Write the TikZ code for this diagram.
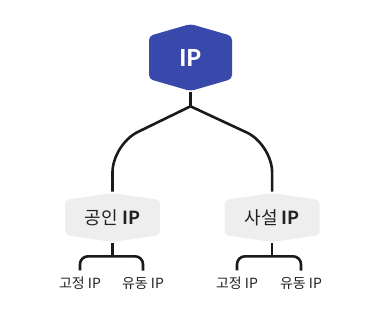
\documentclass[tikz,border=0pt]{standalone}
\usepackage{fontspec}
\setmainfont{Noto Sans CJK KR}[BoldFont={Noto Sans CJK KR Bold}]
\usetikzlibrary{positioning}
\definecolor{ip-blue}{HTML}{3949AB}
\definecolor{ip-grey}{HTML}{EEEEEE}
\definecolor{ip-line}{HTML}{1A1A1A}
\definecolor{ip-text}{HTML}{222222}
\tikzset{hexbase/.style={inner sep=0pt, align=center}}

\begin{document}
\begin{tikzpicture}[
    x=1pt, y=-1pt,                 % pixel grid of the reference, y down
    node distance=62pt,
    line width=2.6pt,
  ]

  % Styles: hexagon is filled inside the node box
  \tikzset{
    roothex/.style={hexbase, minimum width=83pt, minimum height=67pt,
      text=white, font=\fontsize{23}{25}\selectfont\bfseries,
      path picture={\fill[ip-blue, rounded corners=4pt]
        (path picture bounding box.north)
        -- ([yshift=-12pt]path picture bounding box.north east)
        -- ([yshift=12pt]path picture bounding box.south east)
        -- (path picture bounding box.south)
        -- ([yshift=12pt]path picture bounding box.south west)
        -- ([yshift=-12pt]path picture bounding box.north west) -- cycle;}},
    kindhex/.style={hexbase, minimum width=95pt, minimum height=49pt,
      text=ip-text, font=\fontsize{18}{20}\selectfont,
      path picture={\fill[ip-grey, rounded corners=4pt]
        (path picture bounding box.north)
        -- ([yshift=-7pt]path picture bounding box.north east)
        -- ([yshift=7pt]path picture bounding box.south east)
        -- (path picture bounding box.south)
        -- ([yshift=7pt]path picture bounding box.south west)
        -- ([yshift=-7pt]path picture bounding box.north west) -- cycle;}},
    leaf/.style={text=ip-text, font=\fontsize{14}{16}\selectfont, inner sep=0pt},
    link/.style={draw=ip-line, line width=2.6pt},
  }

  \useasboundingbox (0,0) rectangle (379,325);

  % Root
  \node (ip) [roothex] at (190.5,57.5) {IP};

  % Public / private
  \node (pub) [kindhex] at (112.5,217.5) {공인 \textbf{IP}};
  \node (priv) [kindhex, right=of pub] {사설 \textbf{IP}};

  % Leaves
  \node (pubfix) [leaf] at (80,283) {고정 IP};
  \node (pubdyn) [leaf] at (143,283) {유동 IP};
  \node (privfix) [leaf] at (237,283) {고정 IP};
  \node (privdyn) [leaf] at (301,283) {유동 IP};

  % Split below the root
  \coordinate (split) at ([yshift=-14pt]ip.south);
  \draw[link] (ip.south) -- (split);
  \draw[link, rounded corners=28pt] (split) -- ([yshift=-38pt]split -| pub.north) -- (pub.north);
  \draw[link, rounded corners=28pt] (split) -- ([yshift=-38pt]split -| priv.north) -- (priv.north);

  % Brackets to the leaves
  \coordinate (pubbar) at ([yshift=-13pt]pub.south);
  \coordinate (privbar) at ([yshift=-13pt]priv.south);
  \draw[link] (pub.south) -- (pubbar);
  \draw[link] (priv.south) -- (privbar);
  \draw[link, rounded corners=8pt] ([yshift=5pt]pubfix.north) -- (pubfix.north |- pubbar)
    -- (pubdyn.north |- pubbar) -- ([yshift=5pt]pubdyn.north);
  \draw[link, rounded corners=8pt] ([yshift=5pt]privfix.north) -- (privfix.north |- privbar)
    -- (privdyn.north |- privbar) -- ([yshift=5pt]privdyn.north);

\end{tikzpicture}
\end{document}
